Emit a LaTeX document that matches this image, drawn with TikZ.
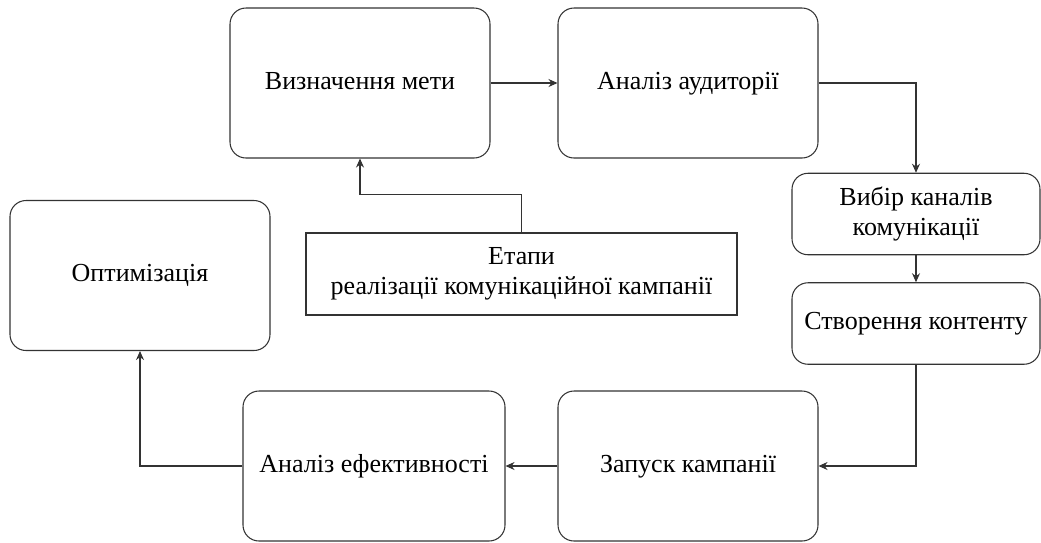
\documentclass[tikz,border=0pt]{standalone}
\usepackage{fontspec}
\setmainfont{Liberation Serif}
\usetikzlibrary{arrows.meta}

\tikzset{
	etap/.style={draw=black!80,line width=0.6pt,rounded corners=0.32cm,align=center,
		minimum width=5.2cm,minimum height=3cm,inner sep=2pt,text height=1.5ex,text depth=0pt,
		font=\fontsize{14.8}{17}\selectfont},
	malyi/.style={etap,minimum width=4.96cm,minimum height=1.63cm},
	ramka/.style={draw=black!80,line width=0.6pt,align=center,minimum width=8.62cm,
		minimum height=1.64cm,font=\fontsize{14.8}{17}\selectfont},
	strilka/.style={draw=black!80,line width=0.6pt,-{Stealth[length=1.8mm,width=1.6mm]}}
}

\begin{document}
\begin{tikzpicture}[scale=1]
	% Межі малюнка
	\useasboundingbox (0,0) rectangle (20.82,-10.84);

	% Блоки етапів
	\node[etap] (meta) at (7.2,-1.66) {Визначення мети};
	\node[etap] (audytoriia) at (13.76,-1.66) {Аналіз аудиторії};
	\node[malyi,text height={},text depth={}] (kanaly) at (18.32,-4.28) {Вибір каналів\\комунікації};
	\node[malyi] (kontent) at (18.32,-6.47) {Створення контенту};
	\node[etap] (zapusk) at (13.76,-9.32) {Запуск кампанії};
	\node[etap,minimum width=5.24cm] (efekt) at (7.48,-9.32) {Аналіз ефективності};
	\node[etap] (optym) at (2.8,-5.51) {Оптимізація};

	% Центральний блок
	\node[ramka] (etapy) at (10.43,-5.48) {Етапи\\реалізації комунікаційної кампанії};

	% Зв'язки
	\draw[strilka] (meta) -- (audytoriia);
	\draw[strilka] (audytoriia.east) -| (kanaly.north);
	\draw[strilka] (kanaly) -- (kontent);
	\draw[strilka] (kontent.south) |- (zapusk.east);
	\draw[strilka] (zapusk) -- (efekt);
	\draw[strilka] (efekt.west) -| (optym.south);
	\draw[strilka] (etapy.north) -- ++(0,0.76) -| (meta.south);

\end{tikzpicture}
\end{document}
